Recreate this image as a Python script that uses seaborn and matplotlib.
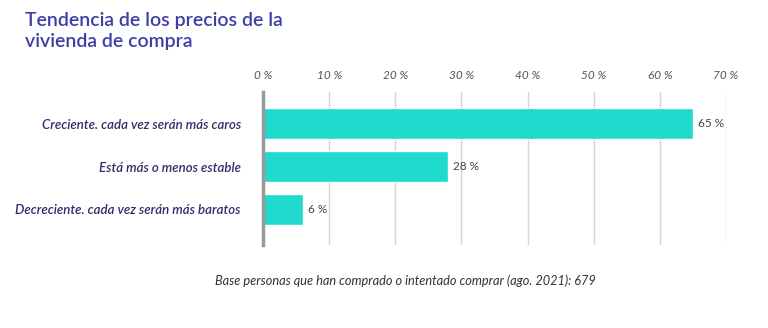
import matplotlib
matplotlib.use("Agg")
import matplotlib.pyplot as plt
import seaborn as sns
import pandas as pd

categories = ["Creciente. cada vez serán más caros",
              "Está más o menos estable",
              "Decreciente. cada vez serán más baratos"]
values = [65, 28, 6]
value_labels = ["65 %", "28 %", "6 %"]
ticks = [0, 10, 20, 30, 40, 50, 60, 70]
tick_labels = ["0 %", "10 %", "20 %", "30 %", "40 %", "50 %", "60 %", "70 %"]

sns.set_theme(style="white")
plt.rcParams['font.family'] = ['Lato', 'DejaVu Sans']

df = pd.DataFrame({"cat": categories, "val": values})

fig = plt.figure(figsize=(7.68, 3.28), dpi=100)
ax = fig.add_axes([263/768, 1-245/328, (726-263)/768, (245-92)/328])

sns.barplot(data=df, x="val", y="cat", orient="h", color="#1FDACD",
            saturation=1, width=0.72, ax=ax)

ax.set_xlim(0, 70)
ax.set_ylim(2.826, -0.733)
ax.set_xticks(ticks)
ax.set_xticklabels(tick_labels, fontsize=8.5, style="italic", color="#555555")
ax.xaxis.tick_top()
ax.tick_params(axis="x", length=0, pad=8)
ax.tick_params(axis="y", length=0, pad=16)
ax.set_xlabel("")
ax.set_ylabel("")
for lbl in ax.get_yticklabels():
    lbl.set_fontstyle("italic")
    lbl.set_fontsize(9.5)
    lbl.set_color("#2E2E6A")
    lbl.set_fontweight("semibold")

for t in ticks[1:]:
    ax.axvline(t, color="#D5D5D5", lw=1, zorder=0)
ax.set_axisbelow(True)

for s in ["top", "right", "bottom"]:
    ax.spines[s].set_visible(False)
ax.spines["left"].set_color("#999999")
ax.spines["left"].set_linewidth(2.5)

for i, (v, l) in enumerate(zip(values, value_labels)):
    ax.text(v + 0.8, i, l, va="center", ha="left", fontsize=8.5, color="#444444")

fig.text(25/768, 1-12/328, "Tendencia de los precios de la\nvivienda de compra",
         ha="left", va="top", fontsize=14, fontweight="semibold",
         color="#3E3EA6", linespacing=1.3)

fig.text(405/768, 1-281/328,
         "Base personas que han comprado o intentado comprar (ago. 2021): 679",
         ha="center", va="center", fontsize=9.2, style="italic", color="#333333")

fig.savefig("out.png", dpi=100, facecolor="white")
